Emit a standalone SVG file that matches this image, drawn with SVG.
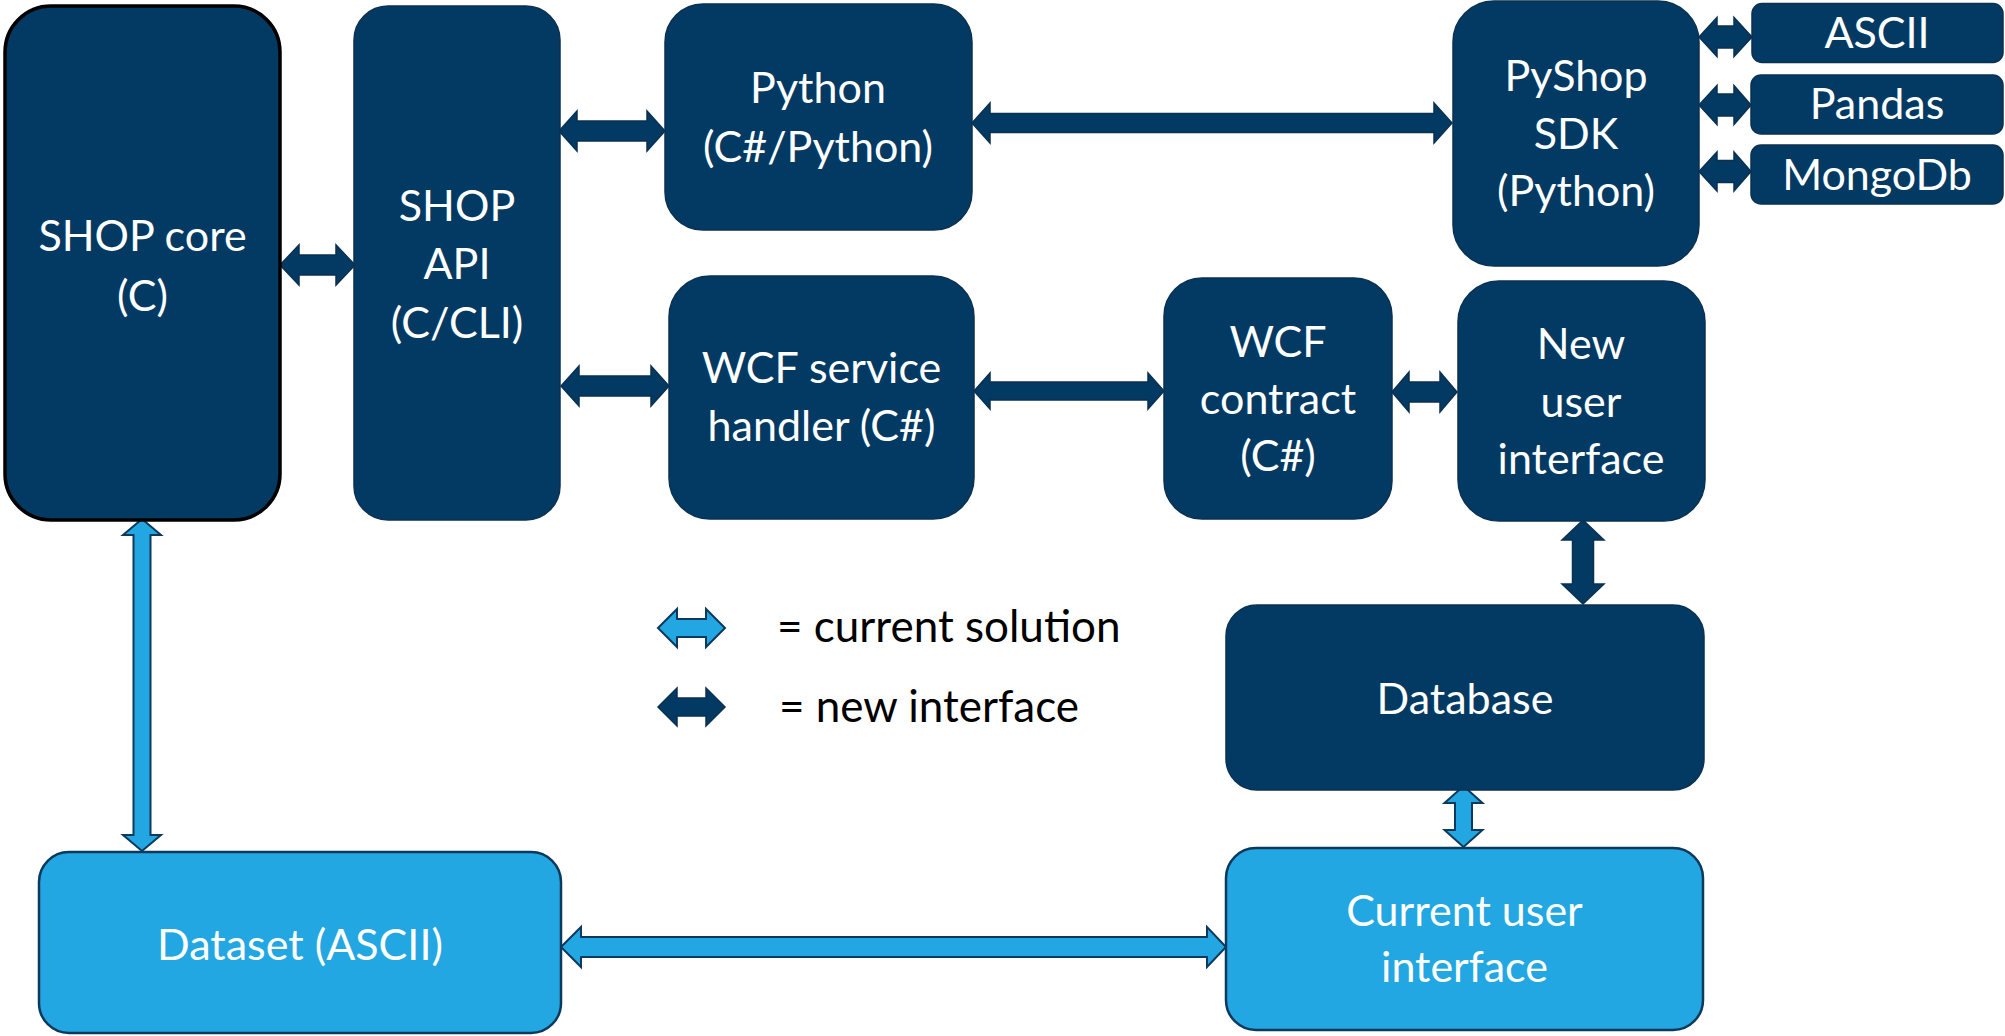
<svg xmlns="http://www.w3.org/2000/svg" width="2005" height="1036" viewBox="0 0 2005 1036">
<style>
.dk{fill:#023A63;stroke:#0B3152;stroke-width:1.5}
.lt{fill:#22A7E2;stroke:#0D3A5C;stroke-width:2.5}
.core{fill:#023A63;stroke:#000;stroke-width:3.5}
.t{font-family:Lato,"Open Sans",sans-serif;font-size:43px;fill:#fff;text-anchor:middle}
.lg{font-family:Lato,"Open Sans",sans-serif;font-size:44px;fill:#000}
.ad{fill:#023A63;stroke:#0B3152;stroke-width:1.5;stroke-linejoin:miter}
.al{fill:#22A7E2;stroke:#0D3A5C;stroke-width:2;stroke-linejoin:miter}
</style>
<rect width="2005" height="1036" fill="#fff"/>
<g id="connectors">
<path class="ad" d="M280,265 L299,245 L299,255 L336,255 L336,245 L355,265 L336,285 L336,275 L299,275 L299,285 Z"/>
<path class="ad" d="M559,131 L577,111 L577,121 L647,121 L647,111 L665,131 L647,151 L647,141 L577,141 L577,151 Z"/>
<path class="ad" d="M561,386 L579,366 L579,376 L651,376 L651,366 L669,386 L651,406 L651,396 L579,396 L579,406 Z"/>
<path class="ad" d="M972,123 L990,103 L990,113.5 L1434,113.5 L1434,103 L1452,123 L1434,143 L1434,132.5 L990,132.5 L990,143 Z"/>
<path class="ad" d="M974,391 L990,373 L990,382 L1148,382 L1148,373 L1164,391 L1148,409 L1148,400 L990,400 L990,409 Z"/>
<path class="ad" d="M1392,392 L1409,372 L1409,382 L1440,382 L1440,372 L1457,392 L1440,412 L1440,402 L1409,402 L1409,412 Z"/>
<path class="ad" d="M1699,37 L1717,17.5 L1717,26 L1734,26 L1734,17.5 L1752,37 L1734,56.5 L1734,48 L1717,48 L1717,56.5 Z"/>
<path class="ad" d="M1699,105 L1717,85.5 L1717,94 L1734,94 L1734,85.5 L1751,105 L1734,124.5 L1734,116 L1717,116 L1717,124.5 Z"/>
<path class="ad" d="M1699,171.5 L1717,152 L1717,160.5 L1734,160.5 L1734,152 L1751,171.5 L1734,191 L1734,182.5 L1717,182.5 L1717,191 Z"/>
<path class="ad" d="M1583,520 L1604,540 L1593.5,540 L1593.5,584 L1604,584 L1583,604 L1562,584 L1572.5,584 L1572.5,540 L1562,540 Z"/>
<path class="al" d="M142,519 L161,535 L150.5,535 L150.5,835 L161,835 L142,851 L123,835 L133.5,835 L133.5,535 L123,535 Z"/>
<path class="al" d="M1463.5,786 L1482.5,803 L1472,803 L1472,830 L1482.5,830 L1463.5,847 L1444.5,830 L1455,830 L1455,803 L1444.5,803 Z"/>
<path class="al" d="M561,947 L581,927 L581,937 L1207,937 L1207,927 L1226,947 L1207,967 L1207,957 L581,957 L581,967 Z"/>
</g>
<g id="legend">
<path class="al" d="M658,628 L677,609 L677,619 L706,619 L706,609 L725,628 L706,647 L706,637 L677,637 L677,647 Z"/>
<path class="ad" d="M658,707 L677,688 L677,698 L706,698 L706,688 L725,707 L706,726 L706,716 L677,716 L677,726 Z"/>
<text class="lg" x="777" y="642">= current solution</text>
<text class="lg" x="779" y="722">= new interface</text>
</g>
<g id="shop-core">
<rect class="core" x="5" y="6" width="275" height="514" rx="46"/>
<text class="t" x="142.5" y="251">SHOP core</text>
<text class="t" x="142.5" y="311">(C)</text>
</g>
<g id="shop-api">
<rect class="dk" x="354" y="6" width="206" height="514" rx="34"/>
<text class="t" x="457" y="221">SHOP</text>
<text class="t" x="457" y="279">API</text>
<text class="t" x="457" y="338">(C/CLI)</text>
</g>
<g id="python">
<rect class="dk" x="665" y="4" width="307" height="226" rx="38"/>
<text class="t" x="818" y="103">Python</text>
<text class="t" x="818" y="162">(C#/Python)</text>
</g>
<g id="wcf-handler">
<rect class="dk" x="669" y="276" width="305" height="243" rx="41"/>
<text class="t" x="821.5" y="383">WCF service</text>
<text class="t" x="821.5" y="441">handler (C#)</text>
</g>
<g id="wcf-contract">
<rect class="dk" x="1164" y="278" width="228" height="241" rx="38"/>
<text class="t" x="1278" y="357">WCF</text>
<text class="t" x="1278" y="414">contract</text>
<text class="t" x="1278" y="471">(C#)</text>
</g>
<g id="pyshop">
<rect class="dk" x="1453" y="1" width="246" height="265" rx="41"/>
<text class="t" x="1576" y="91">PyShop</text>
<text class="t" x="1576" y="149">SDK</text>
<text class="t" x="1576" y="206">(Python)</text>
</g>
<g id="ascii">
<rect class="dk" x="1752" y="3.5" width="251" height="59" rx="10"/>
<text class="t" x="1877" y="48">ASCII</text>
</g>
<g id="pandas">
<rect class="dk" x="1751" y="75" width="252" height="59" rx="10"/>
<text class="t" x="1877" y="119">Pandas</text>
</g>
<g id="mongodb">
<rect class="dk" x="1751" y="145" width="252" height="59" rx="10"/>
<text class="t" x="1877" y="190">MongoDb</text>
</g>
<g id="new-ui">
<rect class="dk" x="1458" y="281" width="247" height="240" rx="41"/>
<text class="t" x="1581" y="359">New</text>
<text class="t" x="1581" y="417">user</text>
<text class="t" x="1581" y="474">interface</text>
</g>
<g id="database">
<rect class="dk" x="1226" y="605" width="478" height="185" rx="31"/>
<text class="t" x="1465" y="714">Database</text>
</g>
<g id="current-ui">
<rect class="lt" x="1226" y="848" width="477" height="182" rx="30"/>
<text class="t" x="1464.5" y="926">Current user</text>
<text class="t" x="1464.5" y="982">interface</text>
</g>
<g id="dataset">
<rect class="lt" x="39" y="852" width="522" height="181" rx="30"/>
<text class="t" x="300" y="960">Dataset (ASCII)</text>
</g>
</svg>
